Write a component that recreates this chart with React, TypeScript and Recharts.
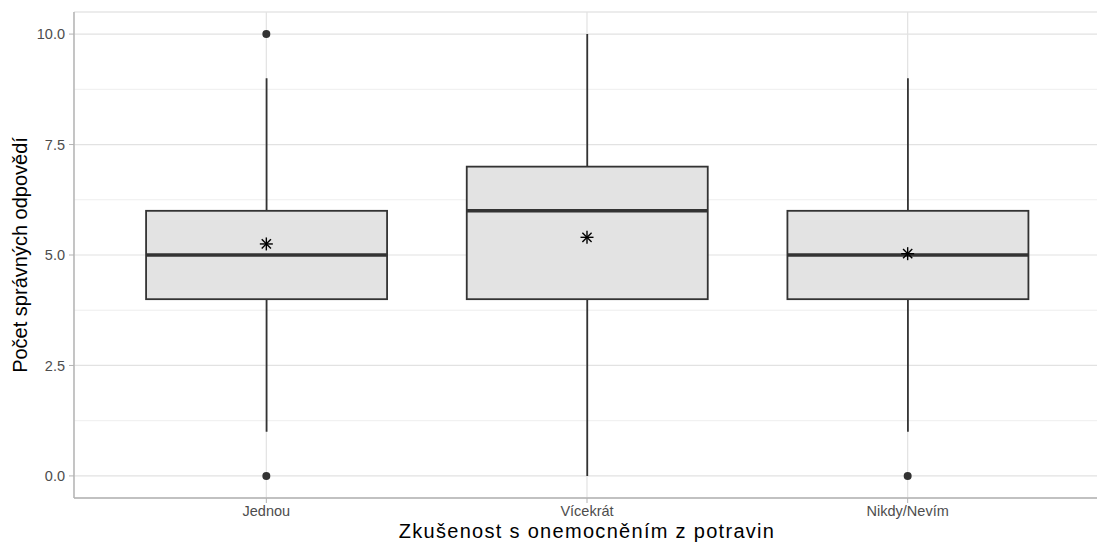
import React from 'react';
import {
  ComposedChart,
  Bar,
  Scatter,
  XAxis,
  YAxis,
  CartesianGrid,
} from 'recharts';

// Box plot summaries per group
const categories = ['Jednou', 'Vícekrát', 'Nikdy/Nevím'];
const whiskerLow = [1, 0, 1];
const lowerQuartile = [4, 4, 4];
const medians = [5, 6, 5];
const upperQuartile = [6, 7, 6];
const whiskerHigh = [9, 10, 9];
const means = [5.25, 5.4, 5.03];

// Points beyond the whiskers
const outlierCategories = ['Jednou', 'Jednou', 'Nikdy/Nevím'];
const outlierValues = [0, 10, 0];

// Y axis
const yTicks = [0, 2.5, 5, 7.5, 10];
const yMinorTicks = [1.25, 3.75, 6.25, 8.75];
const yDomain = [-0.5, 10.5];

const xTitle = 'Zkušenost s onemocněním z potravin';
const yTitle = 'Počet správných odpovědí';

const rows = categories.map((cat, i) => ({
  cat,
  whisker: [whiskerLow[i], whiskerHigh[i]],
  box: [lowerQuartile[i], upperQuartile[i]],
  q1: lowerQuartile[i],
  median: medians[i],
  q3: upperQuartile[i],
  mean: means[i],
}));

const outlierRows = outlierCategories.map((cat, i) => ({ cat, value: outlierValues[i] }));

const FONT = '"Liberation Sans", Arial, Helvetica, sans-serif';
const INK = '#333333';
const BORDER = '#B3B3B3';

const WhiskerShape = (props: any) => {
  const { x, y, width, height } = props;
  if (x == null || y == null) return null;
  const cx = x + width / 2;
  const top = Math.min(y, y + height);
  const bottom = Math.max(y, y + height);
  return <line x1={cx} x2={cx} y1={top} y2={bottom} stroke={INK} strokeWidth={1.8} />;
};

const BoxShape = (props: any) => {
  const { x, y, width, height, payload } = props;
  if (x == null || y == null || !payload) return null;
  const top = Math.min(y, y + height);
  const h = Math.abs(height);
  const span = payload.q3 - payload.q1;
  const medY = top + (h * (payload.q3 - payload.median)) / span;
  return (
    <g>
      <rect x={x} y={top} width={width} height={h} fill="#E3E3E3" stroke={INK} strokeWidth={1.8} />
      <line x1={x} x2={x + width} y1={medY} y2={medY} stroke={INK} strokeWidth={3.4} />
    </g>
  );
};

const OutlierShape = (props: any) => {
  const { cx, cy } = props;
  if (cx == null || cy == null || Number.isNaN(cy)) return null;
  return <circle cx={cx} cy={cy} r={4} fill={INK} />;
};

const MeanShape = (props: any) => {
  const { cx, cy } = props;
  if (cx == null || cy == null) return null;
  const r = 6.5;
  const d = r * Math.SQRT1_2;
  return (
    <g stroke="#000" strokeWidth={1.4}>
      <line x1={cx - r} x2={cx + r} y1={cy} y2={cy} />
      <line x1={cx} x2={cx} y1={cy - r} y2={cy + r} />
      <line x1={cx - d} x2={cx + d} y1={cy - d} y2={cy + d} />
      <line x1={cx - d} x2={cx + d} y1={cy + d} y2={cy - d} />
    </g>
  );
};

const XTitle = (props: any) => {
  const vb = props.viewBox || {};
  return (
    <text
      x={vb.x + vb.width / 2}
      y={vb.y + 40}
      textAnchor="middle"
      fontFamily={FONT}
      fontSize={20}
      letterSpacing={1.3}
      fill="#000"
    >
      {xTitle}
    </text>
  );
};

const YTitle = (props: any) => {
  const vb = props.viewBox || {};
  const cx = vb.x + 27;
  const cy = vb.y + vb.height / 2;
  return (
    <text
      x={cx}
      y={cy}
      transform={`rotate(-90, ${cx}, ${cy})`}
      textAnchor="middle"
      fontFamily={FONT}
      fontSize={20}
      fill="#000"
    >
      {yTitle}
    </text>
  );
};

const tickStyle = { fontFamily: FONT, fontSize: 14.5, fill: '#4D4D4D' };
const xPadding = { left: 32, right: 32 };

export default function App() {
  return (
    <div style={{ position: 'absolute', left: 0, top: 0, width: 1097, height: 543, overflow: 'hidden', background: '#fff' }}>
      <ComposedChart
        width={1100}
        height={543}
        data={rows}
        margin={{ top: 12, right: 0, bottom: 0, left: 0 }}
        barCategoryGap="12.5%"
      >
        {/* minor horizontal grid, driven by a hidden axis holding the minor ticks */}
        <CartesianGrid xAxisId="main" yAxisId="minor" vertical={false} stroke="#EEEEEE" strokeWidth={1} />
        <CartesianGrid xAxisId="main" yAxisId="main" stroke="#E2E2E2" strokeWidth={1.2} />
        <XAxis
          xAxisId="main"
          dataKey="cat"
          type="category"
          allowDuplicatedCategory={false}
          padding={xPadding}
          height={45}
          tick={tickStyle}
          tickSize={5}
          tickMargin={3}
          axisLine={{ stroke: BORDER, strokeWidth: 1.4 }}
          tickLine={{ stroke: BORDER }}
          label={<XTitle />}
        />
        <XAxis
          xAxisId="frame"
          dataKey="cat"
          type="category"
          orientation="top"
          allowDuplicatedCategory={false}
          padding={xPadding}
          height={0}
          tick={false}
          tickLine={false}
          axisLine={{ stroke: BORDER, strokeWidth: 1.4 }}
        />
        <YAxis
          yAxisId="main"
          type="number"
          domain={yDomain}
          ticks={yTicks}
          width={74}
          tickFormatter={(v: number) => v.toFixed(1)}
          tick={tickStyle}
          tickSize={5}
          tickMargin={4}
          axisLine={{ stroke: BORDER, strokeWidth: 1.4 }}
          tickLine={{ stroke: BORDER }}
          allowDataOverflow
          label={<YTitle />}
        />
        <YAxis
          yAxisId="minor"
          type="number"
          domain={yDomain}
          ticks={yMinorTicks}
          allowDataOverflow
          hide
        />
        <Bar xAxisId="frame" yAxisId="main" dataKey="whisker" shape={<WhiskerShape />} isAnimationActive={false} />
        <Bar xAxisId="main" yAxisId="main" dataKey="box" shape={<BoxShape />} isAnimationActive={false} />
        <Scatter xAxisId="main" yAxisId="main" data={outlierRows} dataKey="value" shape={<OutlierShape />} isAnimationActive={false} />
        <Scatter xAxisId="main" yAxisId="main" dataKey="mean" shape={<MeanShape />} isAnimationActive={false} />
      </ComposedChart>
    </div>
  );
}
